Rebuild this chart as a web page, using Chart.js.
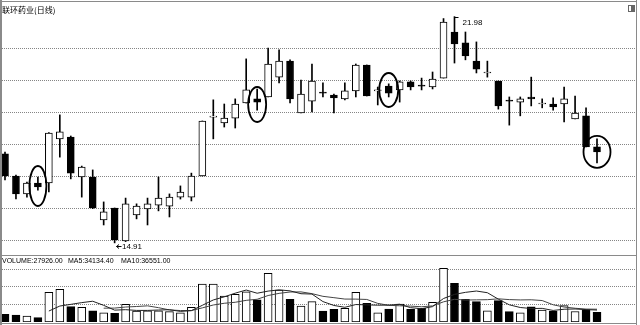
<!DOCTYPE html>
<html>
<head>
<meta charset="utf-8">
<script src="https://cdn.jsdelivr.net/npm/chart.js@4.4.1/dist/chart.umd.min.js"></script>
<style>
  html, body { margin: 0; padding: 0; background: #fff; }
  #wrap { position: relative; width: 640px; height: 325px; overflow: hidden; background: #fff; }
  canvas { position: absolute; left: 0; }
  #price { top: 0; }
  #vol { top: 256px; }
</style>
</head>
<body>
<div id="wrap">
  <canvas id="price" width="640" height="256"></canvas>
  <canvas id="vol" width="640" height="69"></canvas>
</div>
<script>
// 联环药业 daily bars (oldest first)
const stockTitle = '联环药业(日线)';
const opens  = [17.69,17.00,16.44,16.78,16.78,18.16,18.22,16.97,16.97,15.63,16.00,14.97,15.78,15.97,16.09,16.06,16.34,16.34,17.00,18.84,18.66,18.81,19.28,19.41,19.47,20.09,20.59,18.97,19.34,19.60,19.53,19.41,19.66,20.47,19.66,19.81,19.69,19.94,19.82,19.78,20.06,21.50,21.16,20.59,20.22,19.97,19.35,19.31,19.47,19.25,19.25,19.25,18.78,18.88,17.91];
const highs  = [17.75,17.03,16.81,16.97,18.36,18.91,18.25,17.31,17.19,16.19,16.00,16.31,16.13,16.31,16.97,16.44,16.69,17.09,18.72,19.38,19.25,19.41,20.66,19.72,21.00,20.94,20.63,20.00,20.50,19.91,19.56,19.91,20.50,20.47,19.78,19.88,19.97,19.97,20.06,20.25,21.92,21.98,21.50,21.19,20.59,19.97,19.47,19.47,20.09,19.41,19.44,19.78,19.50,19.13,18.16];
const lows   = [16.88,16.28,16.34,16.56,16.50,17.59,16.91,16.34,15.98,15.47,14.91,14.95,15.66,15.47,15.91,15.72,16.28,16.22,17.00,18.16,18.53,18.50,19.28,19.06,19.47,19.91,19.28,18.97,19.00,19.47,18.97,19.38,19.47,19.50,19.22,19.47,19.31,19.69,19.69,19.72,20.06,20.53,20.63,20.22,20.09,19.09,18.59,18.88,19.19,19.13,19.06,18.69,18.78,17.91,17.41];
const closes = [17.00,16.44,16.78,16.66,18.34,18.38,17.09,17.28,16.00,15.88,15.00,16.13,16.06,16.13,16.31,16.34,16.50,17.00,18.72,18.84,18.81,19.25,19.69,19.31,20.50,20.59,19.41,19.56,19.97,19.59,19.44,19.66,20.47,19.50,19.66,19.59,19.94,19.78,19.81,20.03,21.81,21.13,20.75,20.34,20.22,19.19,19.34,19.41,19.41,19.25,19.16,19.41,18.97,17.91,17.75];
const volumes = [22000,20000,17000,12500,85000,93500,44000,42000,32000,26500,25000,50500,31500,32000,32000,29500,26500,42000,108500,108500,74000,79000,86500,63000,139000,91500,65000,45700,58000,31500,36000,39000,85000,53500,26500,37000,51500,36000,39000,56000,153000,110500,65000,58000,32000,61000,29500,26538,43500,34300,31246,47000,30000,34500,27926];

// horizontal grid levels
const priceGrid = [15, 16, 17, 18, 19, 20, 21];
const volumeGrid = [50000, 100000, 150000];

// bars marked with an ellipse
const circled = [3, 23, 35, 54];

// ---- drawing setup ----
const idx = closes.map((_, i) => i);
const isUp = i => closes[i] >= opens[i];

function movingAverage(values, n) {
  return values.map((_, i) => {
    if (i < n - 1) return null;
    let s = 0;
    for (let k = i - n + 1; k <= i; k++) s += values[k];
    return s / n;
  });
}
const ma5 = movingAverage(volumes, 5);
const ma10 = movingAverage(volumes, 10);

const FRAME = '#8a8a8a';
const GRID = '#858585';
const X_MIN = -0.274, X_MAX = 57.557;

function xAxis() {
  return { type: 'linear', min: X_MIN, max: X_MAX, offset: false, display: false };
}

const ellipseStyle = [
  { rx: 8.5, ry: 20, dy: 2.5 },
  { rx: 9, ry: 17.5, dy: 5 },
  { rx: 9.5, ry: 17, dy: -0.4 },
  { rx: 13.5, ry: 16, dy: 1 }
];

const priceOverlay = {
  id: 'priceOverlay',
  afterDatasetsDraw(chart) {
    const { ctx, scales: { x, y } } = chart;
    ctx.save();

    // ellipses around marked bars
    ctx.strokeStyle = '#000';
    ctx.lineWidth = 1.8;
    circled.forEach((i, k) => {
      const st = ellipseStyle[k];
      const cx = x.getPixelForValue(i);
      const cy = (y.getPixelForValue(highs[i]) + y.getPixelForValue(lows[i])) / 2 + st.dy;
      ctx.beginPath();
      ctx.ellipse(cx, cy, st.rx, st.ry, 0, 0, Math.PI * 2);
      ctx.stroke();
    });

    // highest high / lowest low markers
    let hi = 0, lo = 0;
    highs.forEach((v, i) => { if (v > highs[hi]) hi = i; });
    lows.forEach((v, i) => { if (v < lows[lo]) lo = i; });

    ctx.fillStyle = '#000';
    ctx.strokeStyle = '#000';
    ctx.lineWidth = 1;
    ctx.font = '8px "Liberation Sans", Arial, sans-serif';
    ctx.textBaseline = 'middle';
    ctx.textAlign = 'left';

    const hx = Math.round(x.getPixelForValue(hi)) + 0.5;
    const hy = Math.round(y.getPixelForValue(highs[hi])) + 0.5;
    ctx.beginPath();
    ctx.moveTo(hx, hy + 3);
    ctx.lineTo(hx, hy);
    ctx.lineTo(hx + 4, hy);
    ctx.stroke();
    ctx.fillText(highs[hi].toFixed(2), hx + 8, hy + 5);

    const lx = Math.round(x.getPixelForValue(lo)) + 0.5;
    const ly = Math.round(y.getPixelForValue(lows[lo])) + 3.5;
    ctx.beginPath();
    ctx.moveTo(lx + 1, ly);
    ctx.lineTo(lx + 6, ly);
    ctx.moveTo(lx + 3.5, ly - 2);
    ctx.lineTo(lx + 1, ly);
    ctx.lineTo(lx + 3.5, ly + 2);
    ctx.stroke();
    ctx.fillText(lows[lo].toFixed(2), lx + 6.5, ly + 0.5);

    ctx.restore();
  },
  afterDraw(chart) {
    const { ctx } = chart;
    ctx.save();
    // panel frame
    ctx.fillStyle = FRAME;
    ctx.fillRect(0, 0, 2, 256);
    ctx.fillRect(0, 1, 637, 1);
    ctx.fillRect(636, 0, 1, 256);
    ctx.fillRect(0, 255, 637, 1);

    // small panel button at top right
    ctx.strokeStyle = '#666';
    ctx.lineWidth = 1;
    ctx.strokeRect(628.5, 5.5, 6, 6);
    ctx.fillStyle = '#666';
    ctx.fillRect(631, 6, 3, 5);

    // title
    ctx.fillStyle = '#000';
    ctx.font = '8px "Noto Sans CJK SC", sans-serif';
    ctx.textBaseline = 'middle';
    ctx.textAlign = 'left';
    ctx.fillText(stockTitle, 2, 10);
    ctx.restore();
  }
};

const volumeOverlay = {
  id: 'volumeOverlay',
  afterDraw(chart) {
    const { ctx } = chart;
    const last = volumes.length - 1;
    ctx.save();
    ctx.fillStyle = FRAME;
    ctx.fillRect(0, 0, 2, 69);
    ctx.fillRect(636, 0, 1, 69);
    ctx.fillRect(0, 67, 637, 1);

    ctx.fillStyle = '#000';
    ctx.font = '7px "Liberation Sans", Arial, sans-serif';
    ctx.textBaseline = 'middle';
    ctx.textAlign = 'left';
    ctx.fillText('VOLUME:' + volumes[last].toFixed(2), 2, 5.5);
    ctx.fillText('MA5:' + ma5[last].toFixed(2), 68, 5.5);
    ctx.fillText('MA10:' + ma10[last].toFixed(2), 121, 5.5);
    ctx.restore();
  }
};

const commonOpts = {
  responsive: false,
  maintainAspectRatio: false,
  animation: false,
  events: [],
  plugins: { legend: { display: false }, tooltip: { enabled: false }, title: { display: false } }
};

new Chart(document.getElementById('price'), {
  type: 'bar',
  data: {
    datasets: [
      {
        label: 'body',
        data: idx.map(i => ({ x: i, y: [opens[i], closes[i]] })),
        backgroundColor: c => isUp(c.dataIndex) ? '#fff' : '#000',
        borderColor: '#000',
        borderWidth: 1,
        borderSkipped: false,
        barThickness: 7,
        minBarLength: 1,
        grouped: false,
        order: 1
      },
      {
        label: 'range',
        data: idx.map(i => ({ x: i, y: [lows[i], highs[i]] })),
        backgroundColor: '#000',
        borderWidth: 0,
        barThickness: 1,
        grouped: false,
        order: 2
      }
    ]
  },
  options: Object.assign({}, commonOpts, {
    layout: { padding: { left: 2, right: 4, top: 2, bottom: 2 } },
    scales: {
      x: xAxis(),
      y: {
        type: 'linear',
        min: 14.5625,
        max: 22.4375,
        afterBuildTicks: axis => { axis.ticks = priceGrid.map(v => ({ value: v })); },
        ticks: { display: false },
        grid: { color: GRID, lineWidth: 1, drawTicks: false },
        border: { display: false, dash: [1, 1] }
      }
    }
  }),
  plugins: [priceOverlay]
});

new Chart(document.getElementById('vol'), {
  type: 'bar',
  data: {
    datasets: [
      {
        type: 'line',
        label: 'MA5',
        data: idx.map(i => ({ x: i, y: ma5[i] })),
        borderColor: '#222',
        borderWidth: 1,
        pointRadius: 0,
        tension: 0,
        order: 0
      },
      {
        type: 'line',
        label: 'MA10',
        data: idx.map(i => ({ x: i, y: ma10[i] })),
        borderColor: '#444',
        borderWidth: 1,
        pointRadius: 0,
        tension: 0,
        order: 0
      },
      {
        label: 'VOLUME',
        data: idx.map(i => ({ x: i, y: volumes[i] })),
        backgroundColor: c => isUp(c.dataIndex) ? '#fff' : '#000',
        borderColor: '#000',
        borderWidth: 1,
        borderSkipped: false,
        barThickness: 8,
        grouped: false,
        order: 1
      }
    ]
  },
  options: Object.assign({}, commonOpts, {
    layout: { padding: { left: 2, right: 4, top: 0, bottom: 3 } },
    scales: {
      x: xAxis(),
      y: {
        type: 'linear',
        min: 0,
        max: 188571,
        afterBuildTicks: axis => { axis.ticks = volumeGrid.map(v => ({ value: v })); },
        ticks: { display: false },
        grid: { color: GRID, lineWidth: 1, drawTicks: false },
        border: { display: false, dash: [1, 1] }
      }
    }
  }),
  plugins: [volumeOverlay]
});
</script>
</body>
</html>
